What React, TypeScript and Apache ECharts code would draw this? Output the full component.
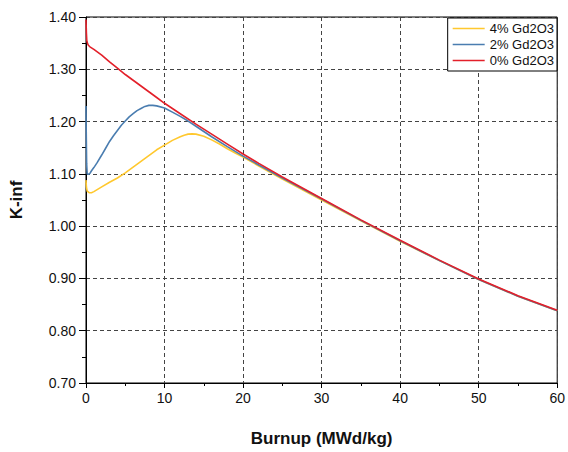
import React, { useEffect, useRef } from "react";
import * as echarts from "echarts";

const burnupRed = [0, 0.05, 0.1, 0.2, 0.3, 0.5, 0.7, 1, 2, 3, 4, 5, 6, 7, 8, 9, 10, 12, 14, 16, 18, 20, 22, 25, 30, 35, 40, 45, 50, 55, 60];
const kinf0 = [1.395, 1.37, 1.355, 1.349, 1.346, 1.343, 1.341, 1.338, 1.327, 1.314, 1.302, 1.29, 1.279, 1.268, 1.257, 1.246, 1.235, 1.215, 1.195, 1.176, 1.157, 1.138, 1.12, 1.094, 1.053, 1.012, 0.973, 0.935, 0.899, 0.867, 0.839];

const burnupBlue = [0, 0.03, 0.08, 0.15, 0.3, 0.5, 0.7, 1, 1.4, 2, 2.5, 3, 3.5, 4, 4.5, 5, 5.5, 6, 6.5, 7, 7.5, 8, 8.5, 9, 10, 11, 12, 13, 14, 16, 18, 20, 22, 25, 30, 35, 40, 45, 50, 55, 60];
const kinf2 = [1.23, 1.18, 1.12, 1.1, 1.099, 1.101, 1.106, 1.112, 1.121, 1.136, 1.149, 1.162, 1.173, 1.183, 1.193, 1.201, 1.209, 1.215, 1.221, 1.225, 1.229, 1.231, 1.231, 1.23, 1.226, 1.218, 1.21, 1.201, 1.191, 1.171, 1.152, 1.134, 1.117, 1.092, 1.052, 1.011, 0.972, 0.934, 0.898, 0.866, 0.838];

const burnupYellow = [0, 0.05, 0.15, 0.4, 0.7, 1, 2, 3, 4, 5, 6, 7, 8, 9, 10, 11, 12, 12.5, 13, 13.5, 14, 15, 16, 17, 18, 19, 20, 22, 25, 30, 35, 40, 45, 50, 55, 60];
const kinf4 = [1.088, 1.075, 1.067, 1.064, 1.064, 1.066, 1.075, 1.084, 1.092, 1.102, 1.113, 1.124, 1.135, 1.146, 1.155, 1.164, 1.171, 1.174, 1.176, 1.1765, 1.176, 1.172, 1.165, 1.157, 1.148, 1.14, 1.132, 1.115, 1.09, 1.05, 1.01, 0.971, 0.934, 0.898, 0.866, 0.838];

const seriesNames = ["4% Gd2O3", "2% Gd2O3", "0% Gd2O3"];
const seriesColors = ["#FFC82E", "#4A7DB0", "#E3202A"];

const zip = (xs: number[], ys: number[]) => xs.map((x, i) => [x, ys[i]]);

export default function App() {
  const ref = useRef<HTMLDivElement>(null);
  useEffect(() => {
    if (!ref.current) return;
    const chart = echarts.init(ref.current, undefined, { renderer: "svg" });
    const font = "'Liberation Sans', Arial, sans-serif";
    const datasets = [zip(burnupYellow, kinf4), zip(burnupBlue, kinf2), zip(burnupRed, kinf0)];
    chart.setOption({
      animation: false,
      backgroundColor: "#fff",
      grid: {
        left: 86,
        right: 7,
        top: 17,
        bottom: 60,
        show: true,
        borderColor: "#000",
        borderWidth: 1,
        backgroundColor: "transparent",
      },
      legend: {
        show: true,
        right: 11,
        top: 18,
        orient: "vertical",
        align: "left",
        icon: "rect",
        itemWidth: 32,
        itemHeight: 1.5,
        itemGap: 3,
        padding: [4, 3, 4, 5],
        borderColor: "#000",
        borderWidth: 1,
        backgroundColor: "#fff",
        textStyle: { fontFamily: font, fontSize: 13, color: "#111" },
        data: seriesNames,
      },
      xAxis: {
        type: "value",
        min: 0,
        max: 60,
        interval: 10,
        name: "Burnup (MWd/kg)",
        nameLocation: "middle",
        nameGap: 47,
        nameTextStyle: { fontFamily: font, fontSize: 17, fontWeight: "bold", color: "#111" },
        axisLine: { show: true, onZero: false, lineStyle: { color: "#000", width: 1 } },
        axisTick: { show: true, length: 5, lineStyle: { color: "#000" } },
        minorTick: { show: true, splitNumber: 2, length: 3, lineStyle: { color: "#000" } },
        axisLabel: { fontFamily: font, fontSize: 14, color: "#111", margin: 8 },
        splitLine: { show: true, lineStyle: { color: "#444", type: [4, 3], width: 1 } },
      },
      yAxis: {
        type: "value",
        min: 0.7,
        max: 1.4,
        interval: 0.1,
        name: "K-inf",
        nameLocation: "middle",
        nameGap: 61,
        nameTextStyle: { fontFamily: font, fontSize: 17, fontWeight: "bold", color: "#111" },
        axisLine: { show: true, onZero: false, lineStyle: { color: "#000", width: 1 } },
        axisTick: { show: true, length: 7, lineStyle: { color: "#000" } },
        minorTick: { show: true, splitNumber: 2, length: 4, lineStyle: { color: "#000" } },
        axisLabel: {
          fontFamily: font,
          fontSize: 14,
          color: "#111",
          margin: 10,
          formatter: (v: number) => v.toFixed(2),
        },
        splitLine: { show: true, lineStyle: { color: "#444", type: [4, 3], width: 1 } },
      },
      series: seriesNames.map((name, i) => ({
        name,
        type: "line",
        data: datasets[i],
        symbol: "none",
        smooth: false,
        lineStyle: { color: seriesColors[i], width: 1.6 },
        itemStyle: { color: seriesColors[i] },
        z: 2 + i,
      })),
    });
    return () => chart.dispose();
  }, []);
  return (
    <div
      ref={ref}
      style={{ position: "fixed", left: 0, top: 0, width: 568, height: 452 }}
    />
  );
}
